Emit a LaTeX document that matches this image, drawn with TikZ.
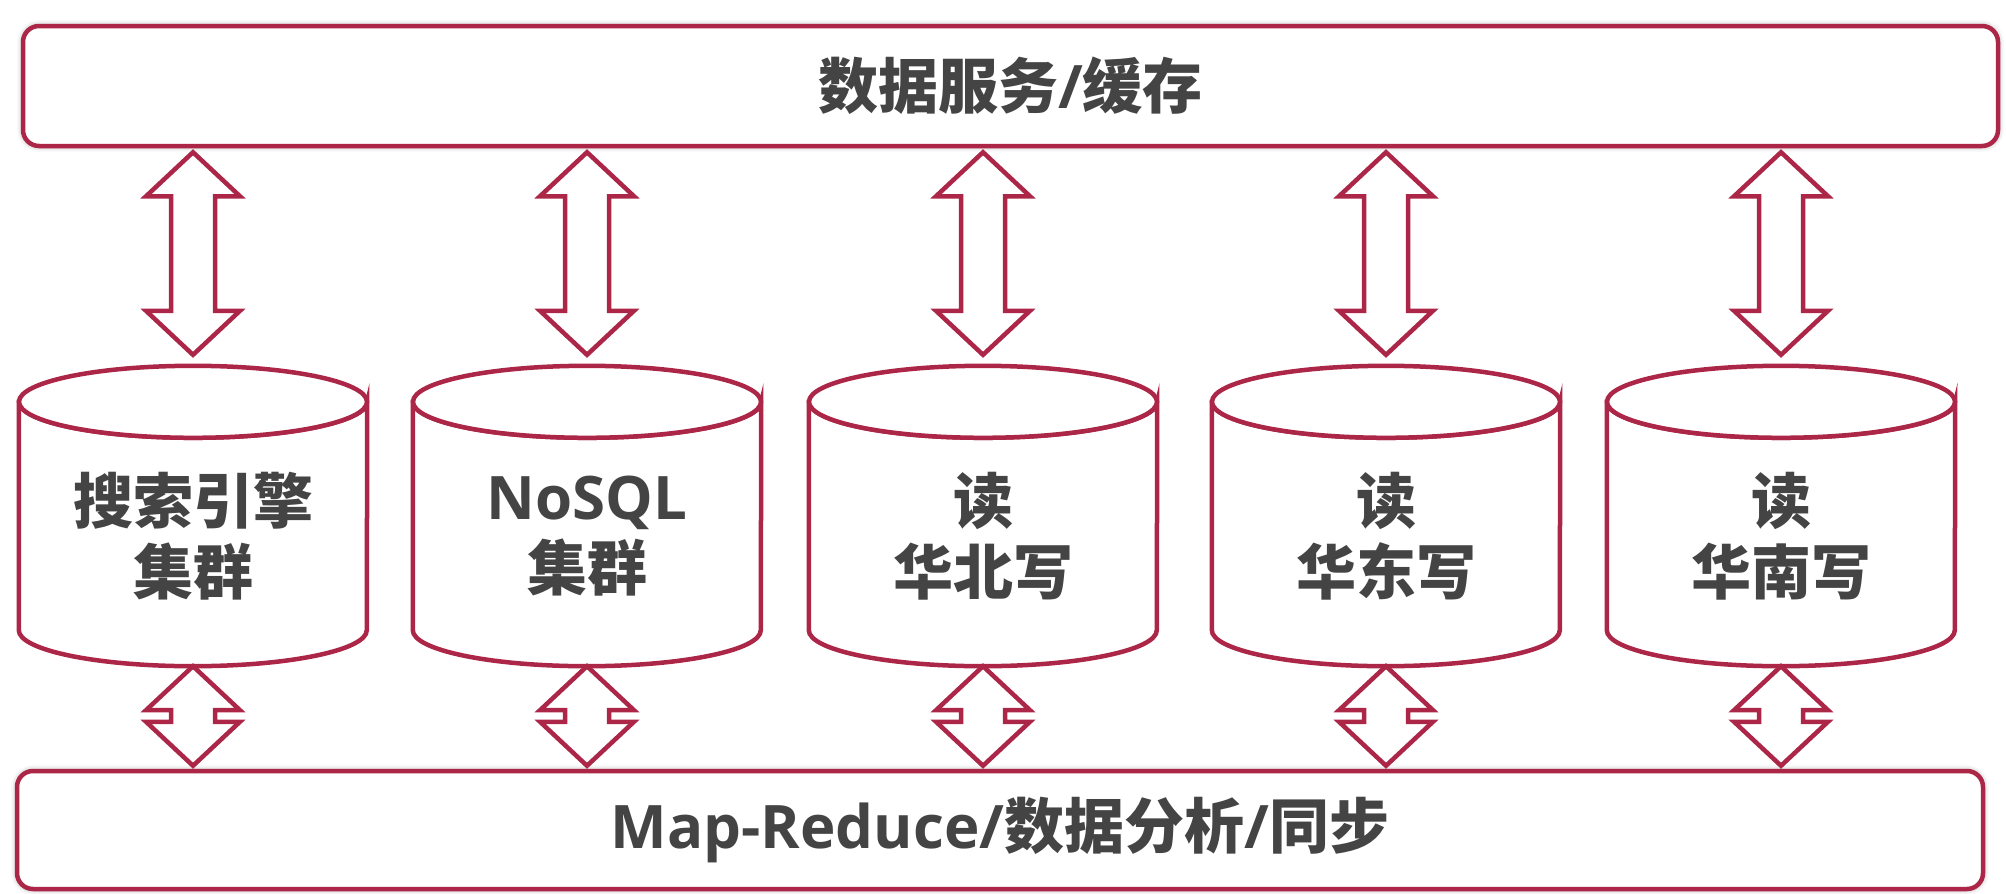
\documentclass[tikz,border=0pt]{standalone}
\usepackage{fontspec}
\newfontfamily\cjk{Noto Sans CJK SC}
\newfontfamily\lat{Open Sans}
\usetikzlibrary{calc,shadows.blur}
\definecolor{rim}{RGB}{172,38,72}
\definecolor{ink}{RGB}{68,68,68}
\newcommand\dblarr[2]{\draw[arr] (#1) -- ++(47,44) -- ++(-25,0) -- ($(#2)+(22,-44)$) -- ++(25,0) -- (#2) -- ++(-47,-44) -- ++(25,0) -- ($(#1)+(-22,44)$) -- ++(-25,0) -- cycle;}
\begin{document}
\begin{tikzpicture}[x=1pt,y=-1pt,
  box/.style={draw=rim, line width=4.5pt, fill=white, rounded corners=16pt,
    blur shadow={shadow xshift=0pt, shadow yshift=0pt, shadow blur radius=6pt, shadow opacity=40},
    text=ink, font=\cjk\bfseries\fontsize{60}{72}\selectfont, inner sep=0pt},
  rimline/.style={draw=rim, line width=4.5pt},
  arr/.style={draw=rim, line width=4.5pt, fill=white, line join=miter},
  lbl/.style={text=ink, font=\cjk\bfseries\fontsize{60}{71}\selectfont, align=center, inner sep=0pt},
  slot/.style={minimum width=348pt, minimum height=300pt, inner sep=0pt}
]
\useasboundingbox (0,0) rectangle (2006,894);
\node[box, minimum width=1975pt, minimum height=120pt] (svc) at (1010.5,86) {数据服务{\lat/}缓存};
\node[box, minimum width=1966pt, minimum height=118pt] (mr) at (1000,830) {{\lat Map-Reduce/}数据分析{\lat/}同步};
\foreach \n/\cx/\txt in {1/193/{搜索引擎\\集群}, 2/587/{{\lat NoSQL}\\集群}, 3/983/{读\\华北写}, 4/1386/{读\\华东写}, 5/1781/{读\\华南写}} {
  \node[slot] (cyl\n) at (\cx,516) {};
  \draw[rimline, fill=white] ($(cyl\n.north west)+(0,36)$) -- ($(cyl\n.south west)+(0,-36)$)
     arc[start angle=180, end angle=0, x radius=174, y radius=36]
     -- ($(cyl\n.north east)+(0,36)$)
     arc[start angle=0, end angle=180, x radius=174, y radius=36] -- cycle;
  \draw[rimline, fill=white] ($(cyl\n.north)+(0,36)$) ellipse [x radius=174, y radius=36];
  \node[lbl] (t\n) at (\cx,536) {\txt};
  \path (svc.south -| cyl\n.north) ++(0,4) coordinate (a\n);
  \path (cyl\n.north) ++(0,-11) coordinate (b\n);
  \path (cyl\n.south) coordinate (d\n);
  \path (mr.north -| cyl\n.south) ++(0,-3) coordinate (e\n);
  \dblarr{a\n}{b\n}
  \dblarr{d\n}{e\n}
}
\end{tikzpicture}
\end{document}
